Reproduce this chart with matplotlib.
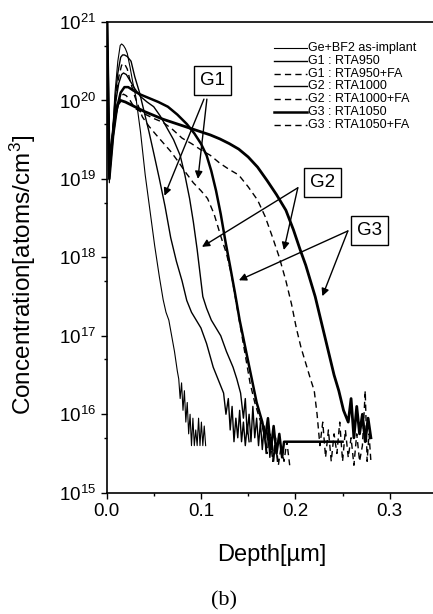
import numpy as np
import matplotlib
matplotlib.use('Agg')
import matplotlib.pyplot as plt
from matplotlib.ticker import LogLocator, MultipleLocator, FuncFormatter, NullFormatter

plt.rcParams['font.family'] = ['Liberation Sans', 'DejaVu Sans']

# depth in um, concentration given as log10(atoms/cm3)
asimp_x = [0.000, 0.003, 0.006, 0.009, 0.012, 0.0145, 0.016, 0.018, 0.020, 0.022, 0.025, 0.028,
           0.031, 0.036, 0.041, 0.046, 0.051, 0.056, 0.060, 0.063, 0.066, 0.069, 0.072, 0.075,
           0.0765, 0.078, 0.0795, 0.081, 0.0825, 0.084, 0.0855, 0.087, 0.0885, 0.090, 0.0915,
           0.093, 0.0945, 0.096, 0.0975, 0.099, 0.1005, 0.102, 0.1035, 0.105]
asimp_log = [21.4, 18.95, 19.5, 20.1, 20.5, 20.7, 20.72, 20.7, 20.66, 20.6, 20.42, 20.22,
             20.05, 19.6, 19.05, 18.6, 18.15, 17.75, 17.46, 17.3, 17.2, 17.0, 16.8, 16.55,
             16.45, 16.2, 16.4, 16.05, 16.3, 15.9, 16.15, 15.75, 16.0, 15.6, 15.95,
             15.6, 15.8, 15.6, 15.95, 15.6, 15.9, 15.6, 15.85, 15.6]

g1_x = [0.000, 0.003, 0.006, 0.009, 0.012, 0.015, 0.017, 0.019, 0.022, 0.026, 0.030, 0.035,
        0.040, 0.045, 0.050, 0.056, 0.062, 0.068, 0.074, 0.080, 0.085, 0.090, 0.095, 0.100,
        0.106, 0.113, 0.118, 0.124, 0.1265, 0.129, 0.131, 0.133, 0.135, 0.137, 0.139, 0.141,
        0.143, 0.145, 0.147, 0.149, 0.151]
g1_log = [21.4, 19.0, 19.5, 20.0, 20.35, 20.55, 20.58, 20.58, 20.56, 20.5, 20.3, 20.1,
          19.85, 19.6, 19.33, 19.0, 18.65, 18.25, 17.95, 17.7, 17.45, 17.3, 17.2, 17.1,
          16.9, 16.6, 16.45, 16.27, 16.0, 16.2, 15.8, 16.1, 15.65, 15.95, 15.7, 16.05,
          15.65, 15.9, 15.6, 15.85, 15.65]

g1fa_x = [0.000, 0.003, 0.007, 0.010, 0.013, 0.016, 0.019, 0.022, 0.025, 0.030, 0.038, 0.045,
          0.052, 0.060, 0.068, 0.076, 0.084, 0.092, 0.100, 0.107, 0.114, 0.121, 0.127, 0.132,
          0.137, 0.142, 0.147, 0.152, 0.157, 0.162, 0.166, 0.170, 0.173, 0.176, 0.179, 0.182,
          0.185, 0.188, 0.191, 0.194]
g1fa_log = [21.4, 19.05, 19.6, 20.05, 20.3, 20.45, 20.47, 20.4, 20.25, 20.05, 19.79, 19.67,
            19.57, 19.46, 19.35, 19.22, 19.08, 18.95, 18.85, 18.75, 18.55, 18.27, 18.05, 17.8,
            17.45, 17.1, 16.75, 16.4, 16.15, 15.95, 15.8, 15.5, 15.75, 15.4, 15.7, 15.35,
            15.6, 15.4, 15.65, 15.35]

g2_x = [0.000, 0.003, 0.007, 0.010, 0.013, 0.016, 0.018, 0.021, 0.025, 0.030, 0.036, 0.043,
        0.050, 0.057, 0.064, 0.071, 0.078, 0.083, 0.088, 0.092, 0.096, 0.099, 0.102, 0.106,
        0.111, 0.116, 0.121, 0.127, 0.134, 0.138, 0.142, 0.145, 0.147, 0.149, 0.151, 0.153,
        0.155, 0.157, 0.159, 0.161, 0.163, 0.165, 0.167, 0.169, 0.171, 0.173, 0.175, 0.177,
        0.179, 0.181]
g2_log = [21.4, 19.1, 19.65, 20.0, 20.22, 20.33, 20.35, 20.33, 20.25, 20.15, 20.05, 19.98,
          19.92, 19.8, 19.65, 19.5, 19.3, 19.05, 18.75, 18.45, 18.1, 17.8, 17.5, 17.35,
          17.2, 17.1, 17.0, 16.8, 16.6, 16.45, 16.27, 15.95, 16.2, 15.75, 16.0, 15.65,
          16.1, 15.7, 15.95, 15.6, 15.9, 15.55, 15.85, 15.5, 15.8, 15.45, 15.7, 15.4,
          15.65, 15.4]

g2fa_x = [0.000, 0.003, 0.007, 0.011, 0.015, 0.018, 0.021, 0.025, 0.030, 0.040, 0.050, 0.060,
          0.070, 0.080, 0.090, 0.100, 0.110, 0.120, 0.130, 0.140, 0.150, 0.160, 0.168, 0.176,
          0.183, 0.190, 0.196, 0.201, 0.206, 0.211, 0.216, 0.220, 0.223, 0.226, 0.229, 0.232,
          0.235, 0.238, 0.241, 0.244, 0.247, 0.250, 0.253, 0.256, 0.259, 0.262, 0.265, 0.268,
          0.271, 0.274, 0.276, 0.278, 0.280]
g2fa_log = [21.4, 19.1, 19.6, 19.9, 20.05, 20.08, 20.06, 20.0, 19.9, 19.83, 19.77, 19.72,
            19.63, 19.52, 19.45, 19.37, 19.3, 19.2, 19.12, 19.05, 18.9, 18.73, 18.52, 18.25,
            18.0, 17.7, 17.4, 17.1, 16.85, 16.65, 16.45, 16.3, 16.0, 15.6, 15.9, 15.45,
            15.8, 15.4, 15.75, 15.5, 15.9, 15.4, 15.8, 15.45, 15.7, 15.35, 15.75, 15.4,
            15.6, 16.3, 15.4, 15.75, 15.4]

g3_x = [0.000, 0.003, 0.007, 0.011, 0.015, 0.019, 0.023, 0.028, 0.035, 0.045, 0.055, 0.065,
        0.075, 0.085, 0.093, 0.100, 0.106, 0.111, 0.116, 0.121, 0.126, 0.131, 0.136, 0.141,
        0.147, 0.153, 0.159, 0.165, 0.168, 0.171, 0.174, 0.177, 0.180, 0.183, 0.186, 0.188,
        0.250]
g3_log = [21.4, 19.0, 19.55, 19.9, 20.1, 20.17, 20.17, 20.13, 20.08, 20.03, 19.98, 19.92,
          19.82, 19.7, 19.58, 19.45, 19.3, 19.1, 18.85, 18.55, 18.2, 17.88, 17.55, 17.2,
          16.85, 16.5, 16.15, 15.9, 15.7, 15.95, 15.55, 15.85, 15.5, 15.75, 15.45, 15.65,
          15.65]

g3fa_x = [0.000, 0.003, 0.006, 0.009, 0.012, 0.015, 0.020, 0.030, 0.040, 0.050, 0.060, 0.070,
          0.080, 0.090, 0.100, 0.110, 0.120, 0.130, 0.140, 0.150, 0.160, 0.170, 0.180, 0.190,
          0.198, 0.205, 0.211, 0.216, 0.221, 0.226, 0.231, 0.236, 0.241, 0.246, 0.251, 0.256,
          0.259, 0.262, 0.265, 0.268, 0.271, 0.274, 0.277, 0.280]
g3fa_log = [21.4, 19.1, 19.5, 19.8, 19.95, 20.0, 19.98, 19.92, 19.86, 19.81, 19.76, 19.72,
            19.68, 19.64, 19.6, 19.56, 19.51, 19.45, 19.38, 19.28, 19.15, 18.98, 18.8, 18.6,
            18.35, 18.1, 17.9, 17.7, 17.5, 17.25, 17.0, 16.75, 16.5, 16.3, 16.05, 15.9,
            16.2, 15.7, 16.1, 15.75, 16.0, 15.65, 15.95, 15.7]

labels = ['Ge+BF2 as-implant', 'G1 : RTA950', 'G1 : RTA950+FA', 'G2 : RTA1000',
          'G2 : RTA1000+FA', 'G3 : RTA1050', 'G3 : RTA1050+FA']

fig = plt.figure(figsize=(4.33, 6.14), dpi=100)
ax = fig.add_axes([106.5/433, 121.3/614, 330.5/433, 470.7/614])

dash = (4.5, 3)
curves = [
    (asimp_x, asimp_log, dict(lw=0.8)),
    (g1_x, g1_log, dict(lw=1.0)),
    (g1fa_x, g1fa_log, dict(lw=1.0, dashes=dash)),
    (g2_x, g2_log, dict(lw=1.0)),
    (g2fa_x, g2fa_log, dict(lw=1.0, dashes=dash)),
    (g3_x, g3_log, dict(lw=1.8)),
    (g3fa_x, g3fa_log, dict(lw=2.0)),
]
for x, lg, style in curves:
    ax.plot(x, 10**np.array(lg), color='black', **style)

ax.set_yscale('log')
ax.set_xlim(0, 0.35)
ax.set_ylim(1e15, 1e21)

ax.xaxis.set_major_locator(MultipleLocator(0.1))
ax.xaxis.set_minor_locator(MultipleLocator(0.05))
ax.xaxis.set_major_formatter(FuncFormatter(lambda v, p: '%.1f' % v))
ax.yaxis.set_major_locator(LogLocator(base=10, numticks=10))
ax.yaxis.set_minor_locator(LogLocator(base=10, subs=[5], numticks=10))
ax.yaxis.set_minor_formatter(NullFormatter())
ax.yaxis.set_major_formatter(FuncFormatter(lambda v, p: r'$\mathregular{10^{%d}}$' % round(np.log10(v))))
ax.tick_params(which='major', direction='out', length=4.5, width=1, labelsize=13.5, pad=3)
ax.tick_params(which='minor', direction='out', length=2.5, width=1)
ax.tick_params(top=False, right=False, which='both')
for s in ['left', 'bottom', 'top']:
    ax.spines[s].set_linewidth(1.2)
ax.spines['right'].set_visible(False)

ax.set_xlabel('Depth[µm]', fontsize=17)
ax.xaxis.set_label_coords(0.5, -0.108)
ax.set_ylabel(r'Concentration[atoms/cm$\mathregular{^3}$]', fontsize=17.5)
ax.yaxis.set_label_coords(-0.207, 0.4625)

# legend drawn by hand so each entry keeps the sample style from the figure
leg_styles = [dict(lw=0.8), dict(lw=1.0), dict(lw=1.0, dashes=dash), dict(lw=1.0),
              dict(lw=1.0, dashes=dash), dict(lw=1.8), dict(lw=1.0, dashes=dash)]
for i, (lab, st) in enumerate(zip(labels, leg_styles)):
    yy = 0.9448 - i*0.0272
    ax.plot([0.506, 0.606], [yy, yy], transform=ax.transAxes, color='black', **st)
    ax.text(0.61, yy, lab, transform=ax.transAxes, fontsize=9, va='center', ha='left')

# group boxes with arrows
groups = {
    'G1': ((0.1122, 1.8e20), [((0.1032, 1.04e20), (0.0614, 6.1e18)),
                              ((0.1063, 1.04e20), (0.0968, 1.0e19))]),
    'G2': ((0.2286, 8.9e18), [((0.2026, 7.7e18), (0.1011, 1.36e18)),
                              ((0.2026, 7.7e18), (0.1878, 1.24e18))]),
    'G3': ((0.2788, 2.2e18), [((0.2556, 2.17e18), (0.1402, 5.1e17)),
                              ((0.2556, 2.17e18), (0.2286, 3.2e17))]),
}
for name, (pos, arrows) in groups.items():
    for start, tip in arrows:
        ax.annotate('', xy=tip, xytext=start,
                    arrowprops=dict(arrowstyle='-|>', color='black', lw=1.0,
                                    mutation_scale=11, shrinkA=0, shrinkB=0))
    ax.text(pos[0], pos[1], name, fontsize=13.5, ha='center', va='center', zorder=5,
            bbox=dict(boxstyle='square,pad=0.32', fc='white', ec='black', lw=1.0))

fig.text(224/433, 1 - 601/614, '(b)', fontsize=16, ha='center', va='center',
         family='Liberation Serif')

fig.savefig('out.png', dpi=100)
